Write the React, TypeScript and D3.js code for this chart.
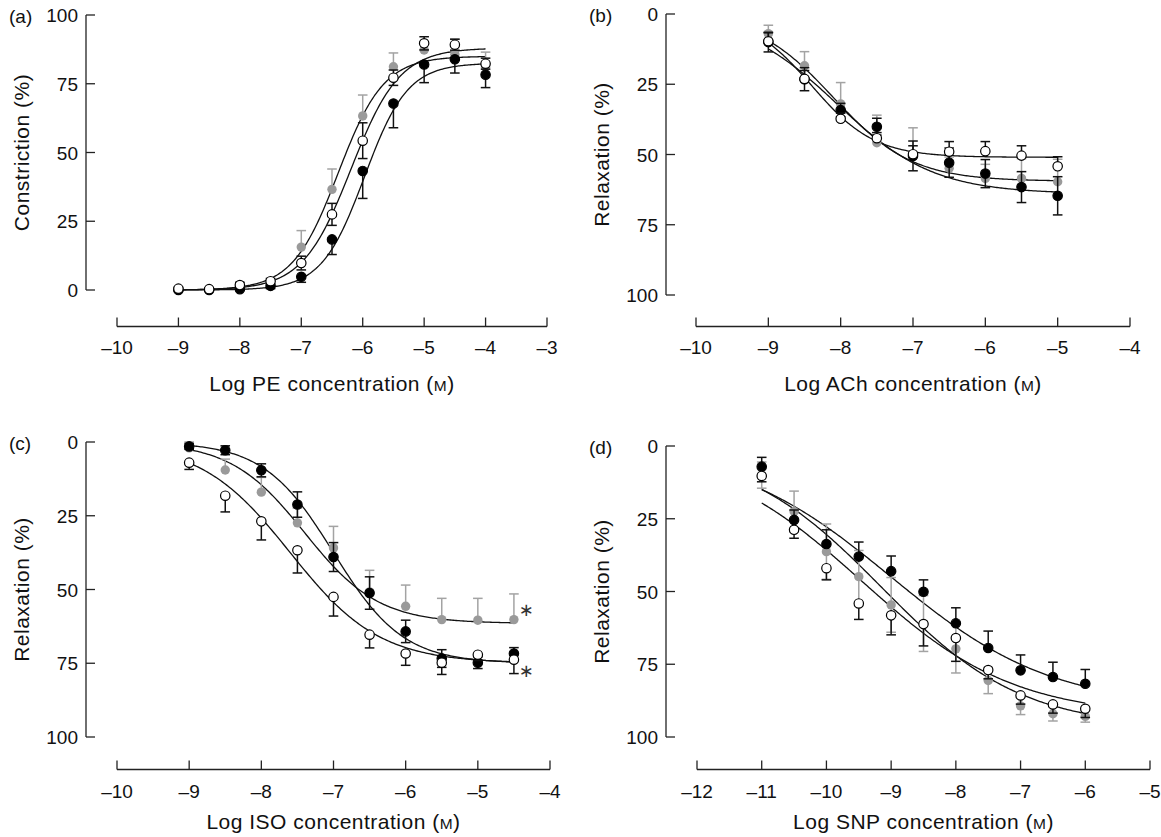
import React from 'react';
import * as d3 from 'd3';

const FONT = '"Liberation Sans", Arial, Helvetica, sans-serif';

// ---------- Panel (a): PE, constriction ----------
const aConc = [-9, -8.5, -8, -7.5, -7, -6.5, -6, -5.5, -5, -4.5, -4];
const aBlack = [0, 0, 0.3, 1.5, 4.8, 18.4, 43.3, 67.8, 82, 83.9, 78.3];
const aBlackSem = [0.5, 0.5, 0.5, 1, 2, 5.5, 10, 8.8, 6.6, 5, 4.7];
const aGrey = [0.3, 0.2, 1, 2.5, 15.6, 36.6, 63.3, 81.2, 87.3, 85.7, 81];
const aGreySem = [0.5, 0.5, 1, 1.5, 6, 7.4, 7.6, 5, 3, 5.5, 5.5];
const aOpen = [0.5, 0.3, 1.8, 3.2, 9.8, 27.5, 54.3, 77.2, 89.7, 89.2, 82.3];
const aOpenSem = [0.5, 0.5, 1, 1, 2.5, 4, 6.5, 2.8, 2.4, 2, 2];
// fitted curves: [bottom, top, logEC50, hill]
const aBlackFit = [0, 82.5, -5.97, 1.24];
const aGreyFit = [0, 85, -6.4, 1.17];
const aOpenFit = [0, 88, -6.19, 1.1];
const aXTicks = [-10, -9, -8, -7, -6, -5, -4, -3];

// ---------- Panel (b): ACh, relaxation ----------
const bConc = [-9, -8.5, -8, -7.5, -7, -6.5, -6, -5.5, -5];
const bBlack = [10, 23.2, 34.2, 40.1, 50.5, 52.9, 56.8, 61.6, 64.7];
const bBlackSem = [3.5, 4.1, 2.4, 3, 5.3, 5.2, 5, 5.5, 6.8];
const bGrey = [7, 18.4, 32, 45.8, 50, 54.9, 58.5, 58.5, 59.7];
const bGreySem = [3, 5, 7.6, 9.8, 9.5, 4, 5, 7, 8];
const bOpen = [9.7, 23.1, 37.3, 44.2, 49.9, 49, 48.8, 50.4, 54.2];
const bOpenSem = [3, 3, 2, 2, 3, 3.6, 3.4, 3.5, 3.4];
const bBlackFit = [0, 64, -8.05, 0.65];
const bGreyFit = [0, 59.5, -8.1, 0.8];
const bOpenFit = [0, 51, -8.4, 1];
const bXTicks = [-10, -9, -8, -7, -6, -5, -4];

// ---------- Panel (c): ISO, relaxation ----------
const cConc = [-9, -8.5, -8, -7.5, -7, -6.5, -6, -5.5, -5, -4.5];
const cBlack = [1.5, 2.8, 9.6, 21.2, 39, 51.2, 64.2, 73.4, 74.8, 71.7];
const cBlackSem = [1, 1.5, 2.2, 4.3, 4.9, 5.5, 3.8, 3, 2, 2];
const cGrey = [2, 9.5, 17, 27.4, 35.9, 50.8, 55.7, 60.2, 60.4, 60.2];
const cGreySem = [2, 3.7, 5, 5, 7.3, 7.3, 7.2, 7.2, 7.4, 8.7];
const cOpen = [7, 18.2, 26.9, 36.7, 52.5, 65.3, 71.7, 74.8, 72.1, 73.8];
const cOpenSem = [2.3, 5.5, 6.3, 7.7, 6.5, 4.5, 4, 4, 2, 4.7];
const cBlackFit = [0, 75, -7.0, 0.9];
const cGreyFit = [0, 61.5, -7.4, 0.85];
const cOpenFit = [0, 75, -7.6, 0.7];
const cXTicks = [-10, -9, -8, -7, -6, -5, -4];

// ---------- Panel (d): SNP, relaxation ----------
const dConc = [-11, -10.5, -10, -9.5, -9, -8.5, -8, -7.5, -7, -6.5, -6];
const dBlack = [7.1, 25.4, 33.7, 38, 43, 50.1, 60.9, 69.4, 77.1, 79.4, 81.7];
const dBlackSem = [3.2, 3.4, 4.9, 5, 5.2, 4.1, 5.3, 5.8, 5.3, 5.1, 4.9];
const dGrey = [10, 22.5, 36.3, 44.9, 54.6, 61, 69.7, 80.6, 89.3, 92, 92.9];
const dGreySem = [4.5, 7, 9.5, 9, 9.4, 9.6, 8.3, 4.5, 3, 2.5, 2];
const dOpen = [10.3, 28.8, 42, 54.1, 58.2, 61.2, 66, 77, 85.7, 88.8, 90.3];
const dOpenSem = [2, 2.9, 4, 5.5, 6.7, 7.5, 8, 3, 3, 3, 3];
const dBlackFit = [0, 90, -9.0, 0.35];
const dGreyFit = [0, 97, -9.15, 0.4];
const dOpenFit = [0, 93, -9.45, 0.37];
const dXTicks = [-12, -11, -10, -9, -8, -7, -6, -5];

const yTicks = [0, 25, 50, 75, 100];

type Kind = 'black' | 'grey' | 'open';
interface Series { kind: Kind; values: number[]; sem: number[]; dir: number; fit: number[] }

const sig = (x: number, p: number[]) => p[0] + (p[1] - p[0]) / (1 + Math.pow(10, p[3] * (p[2] - x)));
const fmt = (d: number) => (d < 0 ? '\u2013' + Math.abs(d) : String(d));

interface Layout {
  x0: number; x1: number; yv0: number; yv100: number; axisX: number; axisY: number;
  tickBase: number; titleBase: number; yTitleX: number; labelX: number;
}

function Panel(props: {
  layout: Layout; xDomain: [number, number]; xTicks: number[]; conc: number[]; series: Series[];
  label: string; drug: string; yTitle: string; asterisks?: { value: number; dy: number }[];
}) {
  const { layout: L, xDomain, xTicks, conc, series, label, drug, yTitle, asterisks } = props;
  const x = d3.scaleLinear().domain(xDomain).range([L.x0, L.x1]);
  const y = d3.scaleLinear().domain([0, 100]).range([L.yv0, L.yv100]);
  const yTop = Math.min(L.yv0, L.yv100);
  const yBot = Math.max(L.yv0, L.yv100);
  const ppu = Math.abs(y(1) - y(0));
  const xs = d3.range(conc[0], conc[conc.length - 1] + 0.001, 0.02);
  const axisColor = '#222';
  const order: Kind[] = ['grey', 'black', 'open'];
  const sorted = order.map((k) => series.find((s) => s.kind === k)!).filter(Boolean);
  const cap = 4.8;
  return (
    <g fontFamily={FONT}>
      <line x1={L.axisX} x2={L.axisX} y1={yTop} y2={yBot} stroke={axisColor} strokeWidth={1.3} />
      {yTicks.map((t) => (
        <g key={'yt' + t}>
          <line x1={L.axisX} x2={L.axisX + 9} y1={y(t)} y2={y(t)} stroke={axisColor} strokeWidth={1.3} />
          <text x={L.axisX - 8} y={y(t) + 7} textAnchor="end" fontSize={19} fill="#111">{t}</text>
        </g>
      ))}
      <line x1={x(xDomain[0])} x2={x(xDomain[1])} y1={L.axisY} y2={L.axisY} stroke={axisColor} strokeWidth={1.3} />
      {xTicks.map((t) => (
        <g key={'xt' + t}>
          <line x1={x(t)} x2={x(t)} y1={L.axisY} y2={L.axisY - 9} stroke={axisColor} strokeWidth={1.3} />
          <text x={x(t)} y={L.tickBase} textAnchor="middle" fontSize={19} fill="#111">{fmt(t)}</text>
        </g>
      ))}
      <text x={(x(xDomain[0]) + x(xDomain[1])) / 2} y={L.titleBase} textAnchor="middle" fontSize={21}
        letterSpacing={0.5} fill="#111">
        {'Log ' + drug + ' concentration ('}
        <tspan fontSize={15.5}>M</tspan>
        {')'}
      </text>
      <text transform={`translate(${L.yTitleX},${(yTop + yBot) / 2}) rotate(-90)`} textAnchor="middle"
        fontSize={21} letterSpacing={0.5} fill="#111">
        {yTitle}
      </text>
      <text x={L.labelX} y={yTop + 7.5} fontSize={19} fill="#111">{label}</text>
      {series.map((s) => (
        <path key={'c' + s.kind}
          d={d3.line<number>().x((d) => x(d)).y((d) => y(sig(d, s.fit)))(xs) || ''}
          fill="none" stroke="#111" strokeWidth={1.3} />
      ))}
      {sorted.map((s) => {
        const col = s.kind === 'grey' ? '#a3a3a3' : '#111';
        return (
          <g key={'s' + s.kind}>
            {conc.map((c, i) => {
              const cx = x(c);
              const cy = y(s.values[i]);
              const len = s.sem[i] * ppu;
              const ends = s.dir === 0 ? [cy - len, cy + len] : [cy + s.dir * len];
              return (
                <g key={i}>
                  {ends.map((e, j) => (
                    <g key={j}>
                      <line x1={cx} x2={cx} y1={cy} y2={e} stroke={col} strokeWidth={1.5} />
                      <line x1={cx - cap} x2={cx + cap} y1={e} y2={e} stroke={col} strokeWidth={1.5} />
                    </g>
                  ))}
                </g>
              );
            })}
            {conc.map((c, i) => (
              <circle key={'p' + i} cx={x(c)} cy={y(s.values[i])} r={4.7}
                fill={s.kind === 'open' ? '#fff' : s.kind === 'grey' ? '#9a9a9a' : '#000'}
                stroke={s.kind === 'grey' ? 'none' : '#000'} strokeWidth={1.2} />
            ))}
          </g>
        );
      })}
      {asterisks && asterisks.map((a, i) => (
        <text key={'a' + i} x={x(conc[conc.length - 1]) + 12.5} y={y(a.value) + a.dy} fontSize={18}
          textAnchor="middle" dominantBaseline="central"
          fontFamily='"DejaVu Sans", sans-serif' fill="#333">{'\u2217'}</text>
      ))}
    </g>
  );
}

const layoutA: Layout = { x0: 117, x1: 547, yv0: 290, yv100: 15, axisX: 86, axisY: 326.5, tickBase: 353.5, titleBase: 391, yTitleX: 29, labelX: 9 };
const layoutB: Layout = { x0: 696, x1: 1130, yv0: 14, yv100: 295, axisX: 666, axisY: 326.5, tickBase: 353.5, titleBase: 391, yTitleX: 609, labelX: 589 };
const layoutC: Layout = { x0: 117, x1: 550, yv0: 442, yv100: 737, axisX: 86, axisY: 769.5, tickBase: 798, titleBase: 829, yTitleX: 29, labelX: 9 };
const layoutD: Layout = { x0: 697, x1: 1150, yv0: 446, yv100: 737, axisX: 666, axisY: 769.5, tickBase: 798, titleBase: 829, yTitleX: 609, labelX: 589 };

export default function App() {
  return (
    <svg width={1161} height={837} style={{ position: 'absolute', left: 0, top: 0, background: '#fff' }}>
      <rect width={1161} height={837} fill="#fff" />
      <Panel layout={layoutA} xDomain={[-10, -3]} xTicks={aXTicks} conc={aConc} label="(a)" drug="PE" yTitle="Constriction (%)"
        series={[
          { kind: 'black', values: aBlack, sem: aBlackSem, dir: 1, fit: aBlackFit },
          { kind: 'grey', values: aGrey, sem: aGreySem, dir: -1, fit: aGreyFit },
          { kind: 'open', values: aOpen, sem: aOpenSem, dir: 0, fit: aOpenFit },
        ]} />
      <Panel layout={layoutB} xDomain={[-10, -4]} xTicks={bXTicks} conc={bConc} label="(b)" drug="ACh" yTitle="Relaxation (%)"
        series={[
          { kind: 'black', values: bBlack, sem: bBlackSem, dir: 0, fit: bBlackFit },
          { kind: 'grey', values: bGrey, sem: bGreySem, dir: -1, fit: bGreyFit },
          { kind: 'open', values: bOpen, sem: bOpenSem, dir: -1, fit: bOpenFit },
        ]} />
      <Panel layout={layoutC} xDomain={[-10, -4]} xTicks={cXTicks} conc={cConc} label="(c)" drug="ISO" yTitle="Relaxation (%)"
        series={[
          { kind: 'black', values: cBlack, sem: cBlackSem, dir: 0, fit: cBlackFit },
          { kind: 'grey', values: cGrey, sem: cGreySem, dir: -1, fit: cGreyFit },
          { kind: 'open', values: cOpen, sem: cOpenSem, dir: 1, fit: cOpenFit },
        ]}
        asterisks={[{ value: cGrey[cGrey.length - 1], dy: -10 }, { value: cOpen[cOpen.length - 1], dy: 11 }]} />
      <Panel layout={layoutD} xDomain={[-12, -5]} xTicks={dXTicks} conc={dConc} label="(d)" drug="SNP" yTitle="Relaxation (%)"
        series={[
          { kind: 'black', values: dBlack, sem: dBlackSem, dir: -1, fit: dBlackFit },
          { kind: 'grey', values: dGrey, sem: dGreySem, dir: 0, fit: dGreyFit },
          { kind: 'open', values: dOpen, sem: dOpenSem, dir: 1, fit: dOpenFit },
        ]} />
    </svg>
  );
}
